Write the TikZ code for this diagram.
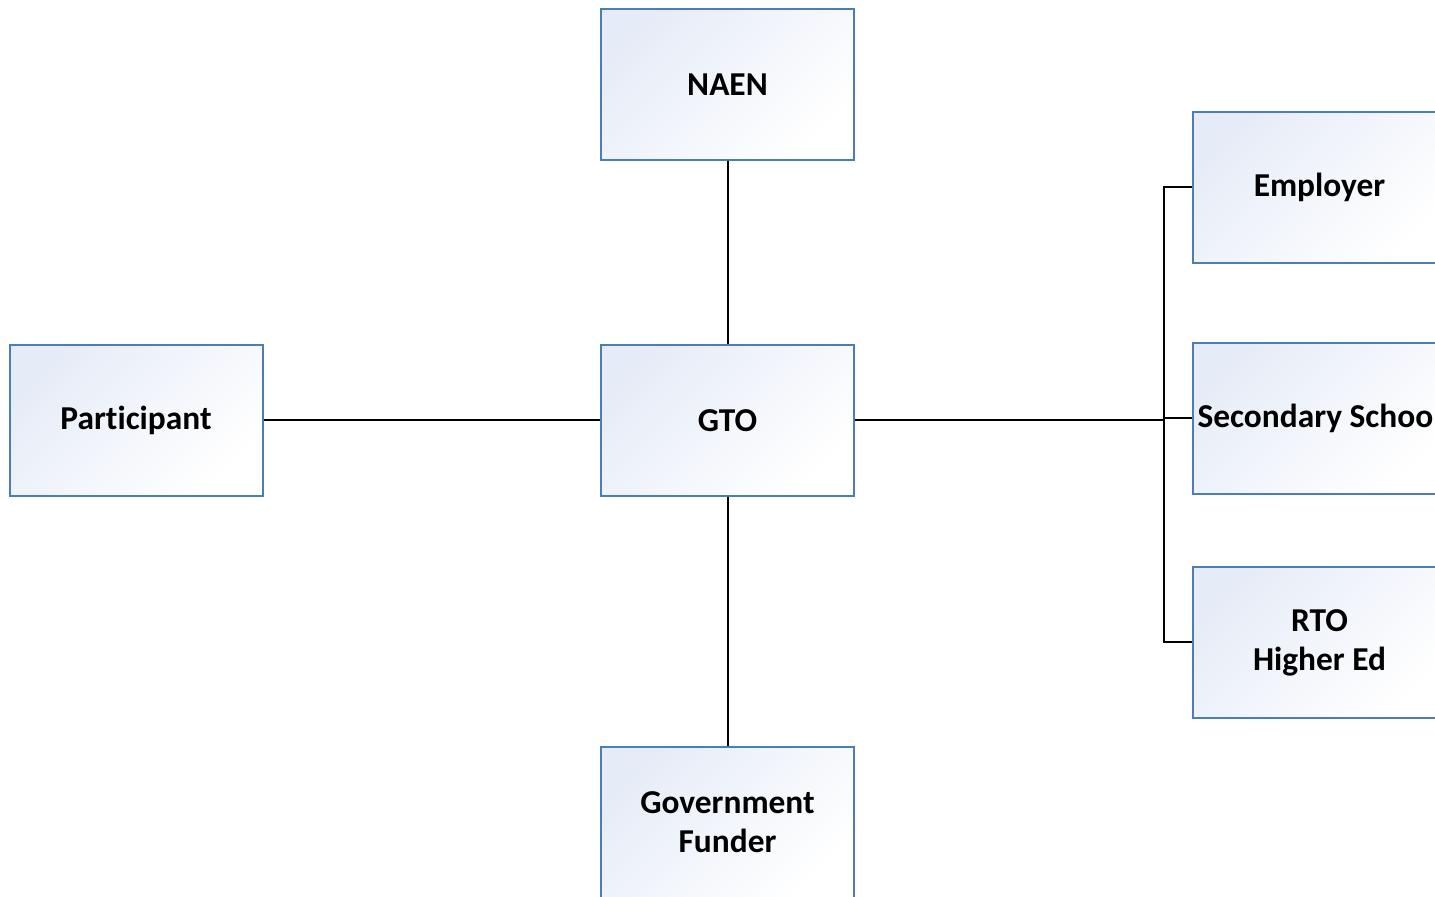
\documentclass[tikz,border=0pt]{standalone}
\usepackage{fontspec}
\setmainfont{Carlito}[Ligatures=NoCommon]
\definecolor{boxborder}{HTML}{4A7EBB}
\definecolor{boxshade}{HTML}{E6ECF7}
\definecolor{boxmid}{HTML}{F4F6FB}
\begin{document}
\begin{tikzpicture}[x=0.5pt,y=-0.5pt,
  entity/.style={draw=boxborder, line width=1pt, rectangle,
    top color=boxshade, middle color=boxmid, bottom color=white, shading angle=45,
    minimum width=126.5pt, minimum height=75.5pt, inner xsep=1pt,
    align=center, font=\fontsize{16.7}{19.5}\selectfont\bfseries},
  link/.style={draw=black, line width=1pt}]
\useasboundingbox (0,0) rectangle (1435,897);
\clip (0,0) rectangle (1435,897);
\node[entity] (naen) at (727.5,84.5) {NAEN};
\node[entity] (gto) at (727.5,420.5) {GTO};
\node[entity] (part) at (136,420.5) {Participant};
\node[entity] (gov) at (727.5,822.5) {Government\\Funder};
\node[entity] (emp) at (1319.5,187.5) {Employer};
\node[entity] (sec) at (1319.5,418.5) {Secondary School};
\node[entity] (rto) at (1319.5,642.5) {RTO\\Higher Ed};
\coordinate (bx) at (1164,0);
\draw[link] (naen.south) -- (gto.north);
\draw[link] (part.east) -- (gto.west);
\draw[link] (gto.south) -- (gov.north);
\draw[link] (gto.east) -- (bx |- gto.east);
\draw[link] (emp.west) -| (bx |- rto.west) -- (rto.west);
\draw[link] (bx |- sec.west) -- (sec.west);
\end{tikzpicture}
\end{document}
